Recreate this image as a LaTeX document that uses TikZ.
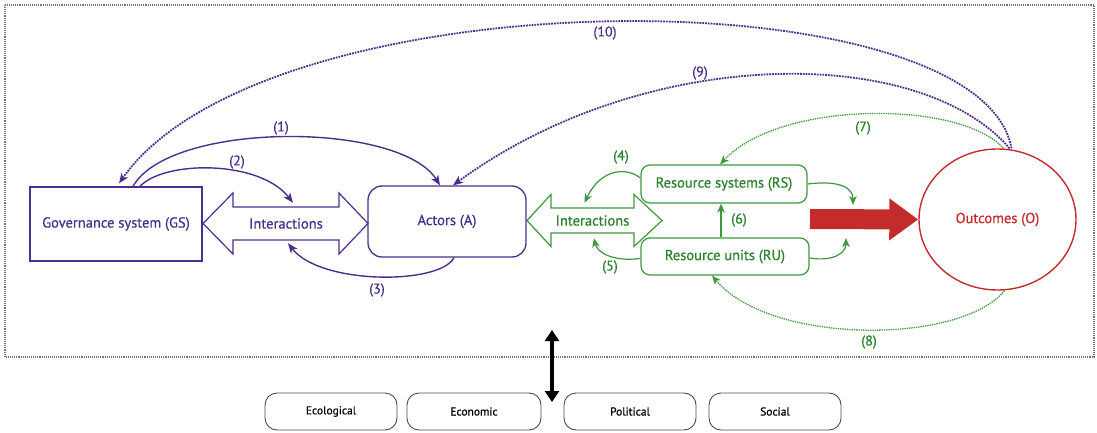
\documentclass[tikz,border=0pt]{standalone}
\usepackage{fontspec}
\setmainfont{PT Sans}[FakeBold=0.6]
\usetikzlibrary{shapes.geometric,arrows.meta}
\definecolor{pur}{RGB}{74,48,140}
\definecolor{grn}{RGB}{62,152,62}
\definecolor{grntx}{RGB}{45,128,45}
\definecolor{rd}{RGB}{196,44,44}
\begin{document}
\begin{tikzpicture}[x=1pt,y=-1pt,
  mfont/.style={font=\fontsize{14.5}{16}\selectfont},
  pbox/.style={draw=pur,line width=1.3pt,text=pur,mfont,inner sep=0pt},
  gbox/.style={draw=grn,line width=1.2pt,text=grntx,mfont,inner sep=0pt,rounded corners=9pt,fill=white},
  cbox/.style={draw=black!70,line width=0.9pt,rounded corners=12pt,minimum width=132,minimum height=37,inner sep=0pt,font=\fontsize{11.5}{13}\selectfont},
  lab/.style={font=\fontsize{14}{16}\selectfont,inner sep=0pt},
  ptip/.style={-{Stealth[length=10pt,width=8pt,inset=2.8pt]}},
  parr/.style={pur,line width=1.4pt,ptip},
  garr/.style={grn,line width=1.2pt,-{Stealth[length=9pt,width=7.5pt,inset=2.5pt]}},
  pdot/.style={pur,line width=1.8pt,densely dotted,ptip},
  gdot/.style={grn,line width=1.3pt,densely dotted,-{Stealth[length=9pt,width=7.5pt,inset=2.5pt]}},
]
\useasboundingbox (0,0) rectangle (1097,433);
% frame
\draw[black!55,densely dotted,line width=1.1pt] (5,5) rectangle (1094,357);

% interaction double arrows (outlines)
\draw[pur,line width=1.2pt,fill=white] (203,223.5) -- (233,193) -- (233,207) -- (339,207) -- (339,193) -- (368,223.5) -- (339,254) -- (339,240) -- (233,240) -- (233,254) -- cycle;
\draw[grn,line width=1.2pt,fill=white] (527,220.5) -- (551,194.5) -- (551,208) -- (634,208) -- (634,194.5) -- (662,220.5) -- (634,246.5) -- (634,233) -- (551,233) -- (551,246.5) -- cycle;

% nodes
\node[pbox,minimum width=172,minimum height=74] (GS) at (116,224) {Governance system (GS)};
\node[pbox,rounded corners=14pt,minimum width=158,minimum height=71] (A) at (447,221.5) {Actors (A)};
\node[text=pur,mfont,minimum width=106,minimum height=33,inner sep=0pt] (Ip) at (286,223.5) {Interactions};
\node[text=grntx,mfont,minimum width=83,minimum height=25,inner sep=0pt] (Ig) at (592.5,220.5) {Interactions};
\node[gbox,minimum width=166,minimum height=38] (RS) at (724,184) {Resource systems (RS)};
\node[gbox,minimum width=168,minimum height=37] (RU) at (725,256.5) {Resource units (RU)};
\node[ellipse,draw=rd,line width=1.4pt,text=rd,mfont,minimum width=157,minimum height=141,inner sep=0pt] (O) at (997.5,219.5) {Outcomes (O)};

\node[cbox] (eco) at (331,411.5) {Ecological};
\node[cbox,minimum width=134] (econ) at (474,411.5) {Economic};
\node[cbox] (pol) at (630,411.5) {Political};
\node[cbox] (soc) at (775,411.5) {Social};

% coordinates
\coordinate (m1) at (853,205);
\coordinate (m2) at (846,238);
\coordinate (rs0) at (810,219);
\coordinate (b1) at (552,330);
\coordinate (b2) at (552,402);

% purple solid arrows
\draw[parr] ([xshift=17pt]GS.north) .. controls (170,121) and (400,121) .. ([xshift=-7pt]A.north);
\draw[parr] ([xshift=24pt]GS.north) .. controls (165,160) and (260,160) .. ([xshift=7pt,yshift=4pt]Ip.north);
\draw[parr] ([xshift=7pt]A.south) .. controls (440,285) and (320,285) .. ([xshift=2pt,yshift=-3pt]Ip.south);

% green solid arrows
\draw[garr] ([yshift=6pt]RS.west) .. controls (625,166) and (600,170) .. ([xshift=-8pt,yshift=5pt]Ig.north);
\draw[garr] ([yshift=-2pt]RU.west) .. controls (612,262) and (597,252) .. ([xshift=1.5pt,yshift=-5pt]Ig.south);
\draw[garr] ([xshift=-4pt]RU.north) -- ([xshift=-3pt]RS.south);
\draw[garr] (RS.east) .. controls (840,180) and (853,188) .. (m1);
\draw[garr] ([yshift=-1.5pt]RU.east) .. controls (835,262) and (846,252) .. (m2);

% red arrow
\draw[rd,line width=20pt,-{Triangle[length=29pt,width=40pt]}] (rs0) -- (O.west);

% dotted feedback arrows
\draw[gdot] ([xshift=6pt]O.north) .. controls (960,100) and (780,100) .. ([xshift=-4pt]RS.north);
\draw[gdot] ([xshift=7pt]O.south) .. controls (960,345) and (770,345) .. ([xshift=-13pt]RU.south);
\draw[pdot] ([xshift=12pt]O.north) .. controls (920,44) and (646,44) .. ([xshift=6pt]A.north);
\draw[pdot] ([xshift=14pt]O.north) .. controls (980,-26) and (267,-26) .. ([xshift=3pt,yshift=3pt]GS.north);

% black double arrow
\draw[black,line width=3.5pt,{Triangle[length=11pt,width=14pt]}-{Triangle[length=11pt,width=14pt]}] (b1) -- (b2);

% labels
\node[lab,text=pur] (l1) at (281,128) {(1)};
\node[lab,text=pur] (l2) at (237,162) {(2)};
\node[lab,text=pur] (l3) at (377,290) {(3)};
\node[lab,text=grntx] (l4) at (621,157) {(4)};
\node[lab,text=grntx] (l5) at (610,267) {(5)};
\node[lab,text=grntx] (l6) at (739,220) {(6)};
\node[lab,text=grntx] (l7) at (863,128) {(7)};
\node[lab,text=grntx] (l8) at (869,342) {(8)};
\node[lab,text=pur] (l9) at (700,73) {(9)};
\node[lab,text=pur] (l10) at (605,33) {(10)};
\end{tikzpicture}
\end{document}
